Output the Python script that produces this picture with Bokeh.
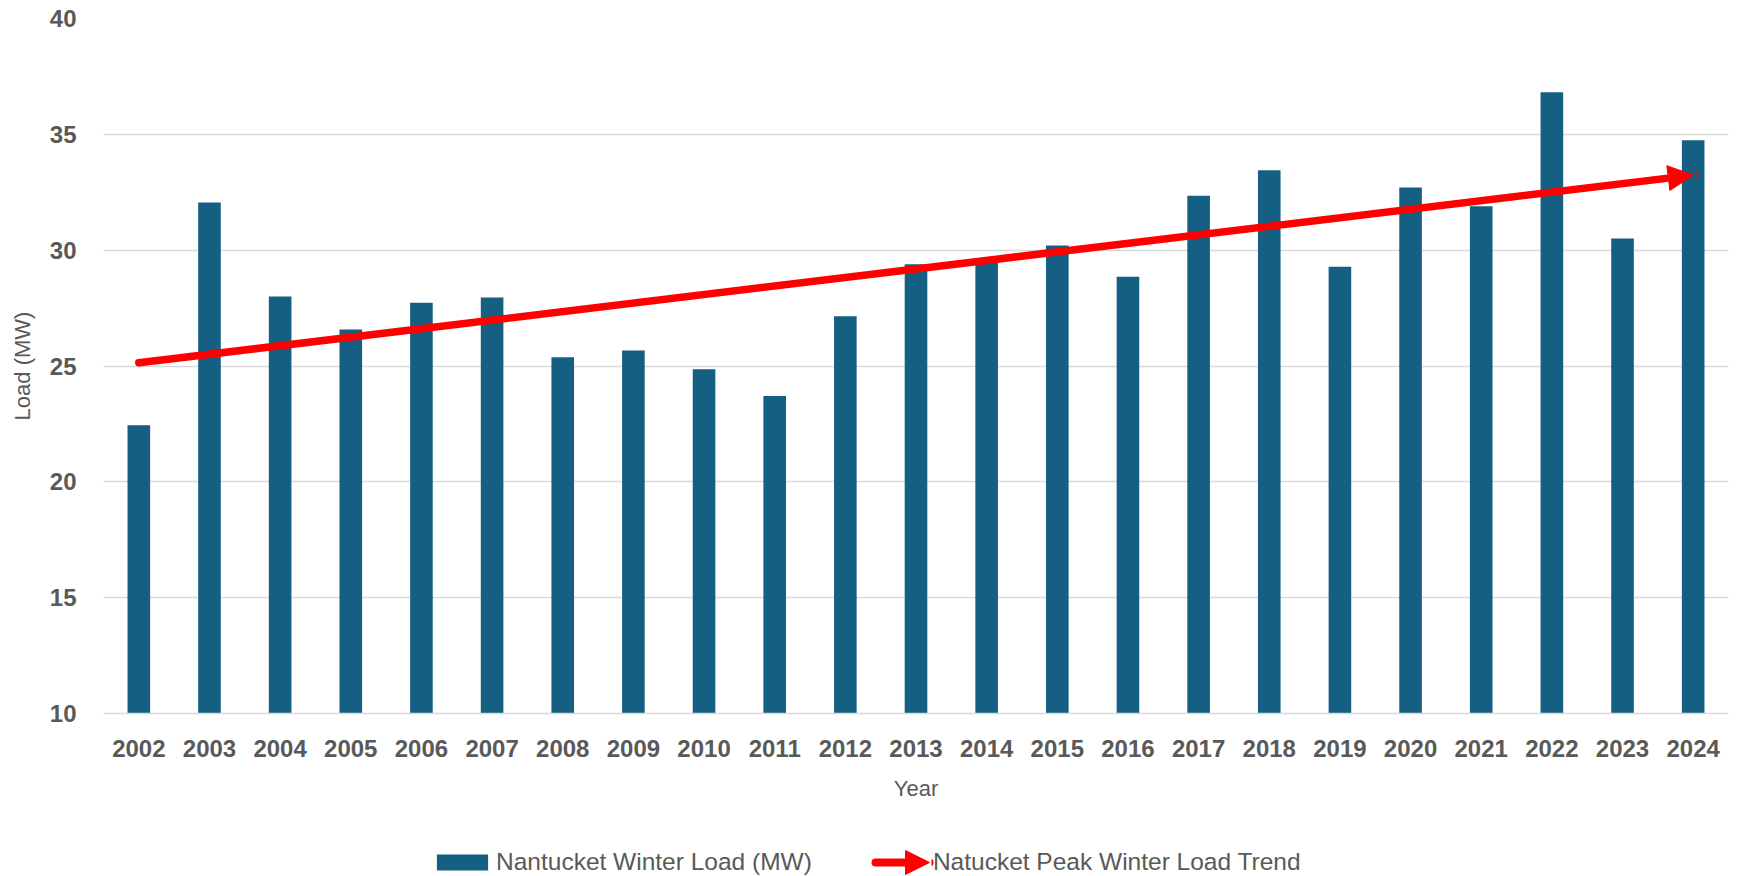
from bokeh.plotting import figure
from bokeh.layouts import column
from bokeh.models import Range1d, FixedTicker, Arrow, NormalHead, Legend, LegendItem
from bokeh.embed import file_html
from bokeh.resources import INLINE

# ---- data ----
years = list(range(2002, 2025))
winter_load = [22.44, 32.06, 28.00, 26.58, 27.73, 27.96, 25.38, 25.67, 24.86, 23.71,
               27.15, 29.39, 29.60, 30.20, 28.85, 32.35, 33.45, 29.28, 32.70, 31.90,
               36.82, 30.50, 34.75]
trend_years = [2002, 2024]
trend_values = [25.14, 33.24]
y_ticks = [10, 15, 20, 25, 30, 35, 40]
bar_label = "Nantucket Winter Load (MW)"
trend_label = "Natucket Peak Winter Load Trend"

GRAY = "#595959"
FONT = "Liberation Sans"
BAR = "#156082"
RED = "#ff0000"

# ---- main chart ----
p = figure(width=1737, height=820,
           x_range=Range1d(2001.5, 2024.5), y_range=Range1d(10, 40),
           output_backend="svg", toolbar_location=None,
           min_border_left=103, min_border_right=9, min_border_top=18, min_border_bottom=107)
p.outline_line_color = None
p.background_fill_color = "white"
p.border_fill_color = "white"

p.xgrid.grid_line_color = None
p.ygrid.grid_line_color = "#d9d9d9"
p.ygrid.grid_line_width = 1.5

p.yaxis.ticker = FixedTicker(ticks=y_ticks)
p.xaxis.ticker = FixedTicker(ticks=years)
p.xaxis.major_label_overrides = {y: str(y) for y in years}

for ax in (p.xaxis[0], p.yaxis[0]):
    ax.axis_line_color = None
    ax.major_tick_line_color = None
    ax.minor_tick_line_color = None
    ax.major_tick_out = 0
    ax.major_tick_in = 0
    ax.major_label_text_font = FONT
    ax.major_label_text_font_style = "bold"
    ax.major_label_text_font_size = "24px"
    ax.major_label_text_color = GRAY
    ax.axis_label_text_font = FONT
    ax.axis_label_text_font_style = "normal"
    ax.axis_label_text_font_size = "22px"
    ax.axis_label_text_color = GRAY

p.xaxis.axis_line_color = "#d9d9d9"
p.xaxis.axis_line_width = 1.5
p.xaxis.axis_label = "Year"
p.yaxis.axis_label = "Load (MW)"
p.xaxis.major_label_standoff = 26
p.xaxis.axis_label_standoff = 16
p.yaxis.major_label_standoff = 27
p.yaxis.axis_label_standoff = 12

bars = p.vbar(x=years, top=winter_load, bottom=10, width=0.32,
              fill_color=BAR, line_color=None)

p.add_layout(Arrow(end=NormalHead(size=25, fill_color=RED, line_color=RED, line_width=1),
                   x_start=trend_years[0], y_start=trend_values[0],
                   x_end=trend_years[1], y_end=trend_values[1],
                   line_color=RED, line_width=7.5, line_cap="round"))

# ---- legend strip (x range = page pixels, frame aligned with main chart) ----
lg = figure(width=1737, height=56, x_range=Range1d(103, 1728), y_range=Range1d(0, 56),
            output_backend="svg", toolbar_location=None,
            x_axis_location=None, y_axis_location=None,
            min_border_left=103, min_border_right=9, min_border_top=0, min_border_bottom=0)
lg.outline_line_color = None
lg.xgrid.visible = False
lg.ygrid.visible = False
lg.background_fill_color = "white"
lg.border_fill_color = "white"

# legend proxies (hidden renderers; only their legend swatches are shown)
bar_icon = lg.vbar(x=years, top=winter_load, bottom=10, width=0.32, fill_color=BAR, line_color=None)
bar_icon.visible = False
trend_icon = lg.line(x=[], y=[], line_color=RED, line_width=8, line_alpha=0)

legend = Legend(items=[LegendItem(label=bar_label, renderers=[bar_icon]),
                       LegendItem(label=trend_label, renderers=[trend_icon])],
                orientation="horizontal", location=(327, 0),
                glyph_width=64, glyph_height=20, label_standoff=2, spacing=55,
                padding=0, margin=0, border_line_color=None, background_fill_alpha=0,
                inactive_fill_alpha=0,
                label_text_font=FONT, label_text_font_size="24.5px", label_text_color=GRAY)
lg.add_layout(legend)

lg.add_layout(Arrow(end=NormalHead(size=24, fill_color=RED, line_color=RED, line_width=1),
                    x_start=875, y_start=14, x_end=929, y_end=14,
                    line_color=RED, line_width=8, line_cap="round"))

open("out.html", "w").write(file_html(column(p, lg, spacing=0), INLINE))
